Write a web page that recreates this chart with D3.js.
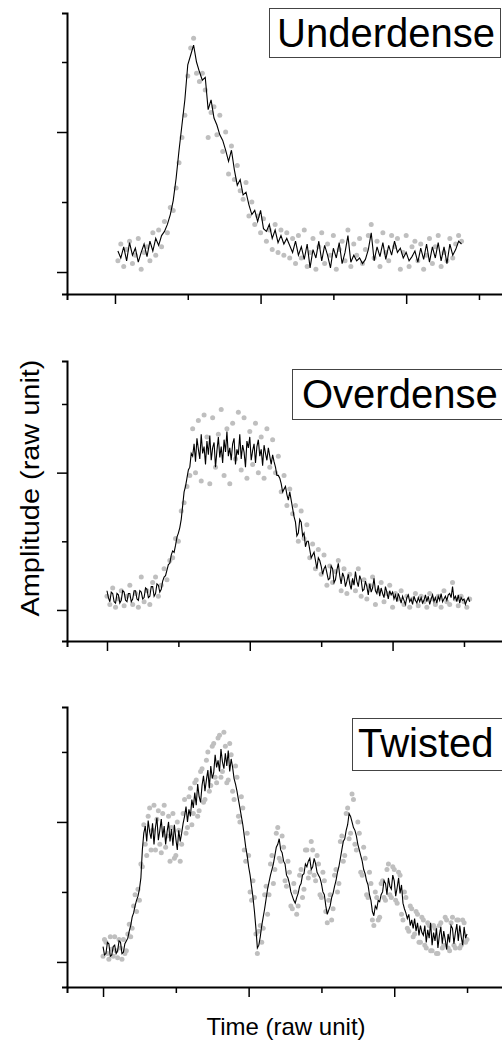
<!DOCTYPE html>
<html>
<head>
<meta charset="utf-8">
<script src="https://cdn.jsdelivr.net/npm/d3@7"></script>
<style>
  html, body { margin: 0; padding: 0; background: #fff; }
  svg { display: block; font-family: "Liberation Sans", Arial, sans-serif; }
</style>
</head>
<body>
<div id="chart"></div>
<script>
// sampled signals: one value per time step, first sample at *Start

const underdenseStart = 4;
const underdenseLineStep = 4;
const underdenseDotStep = 4;
const underdenseLine = [15,10,18,8,21,12,17,7,14,20, 11,22,15,24,19,26,29,34,41,51,
  67,87,105,123,148,155,162,150,143,137, 139,116,123,110,105,98,94,87,79,87,
  73,62,66,55,57,48,41,44,36,44, 31,29,34,24,30,21,26,20,24,19,
  14,22,12,18,9,20,3,16,10,22, 8,19,12,3,17,10,21,6,14,26,
  7,12,8,10,6,9,16,28,8,18, 11,21,9,19,12,22,14,17,10,14,
  8,11,15,7,17,9,20,7,18,10, 21,8,18,6,20,12,16,22,20];
const underdenseDots = [8,20,4,16,22,6,12,24,2,14, 18,8,28,12,30,18,36,28,46,44,
  60,78,96,112,140,160,167,142,136,142, 130,96,114,118,98,112,86,100,70,90,
  66,76,58,52,64,40,50,34,40,28, 38,22,30,16,34,14,30,12,28,10,
  24,6,26,10,30,4,14,24,2,18, 28,6,20,12,26,2,16,22,8,30,
  4,20,12,24,6,16,26,34,10,22, 4,28,14,8,26,18,24,2,14,26,
  4,18,22,8,20,2,12,24,6,18, 26,4,14,8,24,10,20,26,22];

const overdenseStart = 0;
const overdenseLineStep = 2;
const overdenseDotStep = 4;
const overdenseLine = [
  14,9,6,13,12,6,5,12,11,5, 7,14,13,7,6,12,12,6,8,14,
  14,8,7,14,13,8,9,16,15,9, 10,17,17,10,12,19,18,13,15,21,
  24,25,29,33,34,40,43,42,47,53, 56,60,66,76,86,90,96,102,104,114,
  112,121,108,125,117,110,128,114,119,106, 123,113,127,109,118,122,104,116,126,111,
  119,107,124,115,130,112,118,109,121,125, 106,117,113,128,110,120,115,104,123,118,
  126,109,116,121,107,119,124,112,117,105, 120,114,109,118,112,106,113,108,104,98,
  98,96,92,86,88,90,84,80,86,80, 74,68,64,54,56,66,64,54,56,46,
  50,50,44,38,40,42,36,30,38,36, 32,26,30,32,27,22,23,32,30,20,
  22,29,34,25,19,27,24,17,21,26, 19,15,23,18,28,21,17,25,22,14,
  15,21,17,11,19,13,16,23,14,12, 18,10,16,12,9,17,13,8,14,11,
  13,8,11,6,12,9,5,10,7,4, 9,11,6,8,4,10,7,5,9,6,
  9,5,7,11,6,10,4,8,11,6, 9,5,10,7,12,6,8,10,7,11,
  12,9,17,8,10,6,11,5,9,7, 8,4,7,9,6];
const overdenseDots = [10,4,16,2,8,14,3,10,18,4, 12,2,24,6,14,4,20,24,10,18,
  30,22,36,38,52,50,72,78,90,98, 132,100,138,94,142,126,92,140,104,128,
  146,98,132,92,136,110,144,102,140,96, 130,106,136,100,126,96,132,104,124,100,
  112,86,98,76,88,70,76,50,72,52, 62,38,48,30,44,26,40,18,32,20,
  28,36,14,30,12,26,20,14,30,10, 22,8,18,24,4,14,20,6,12,18,
  2,12,8,14,4,10,2,8,12,3, 10,6,2,12,8,4,10,2,14,6,
  4,20,8,3,10,6,2,8];

const twistedStart = 0;
const twistedLineStep = 2;
const twistedDotStep = 2;
const twistedLine = [
  11,5,6,14,13,4,5,11,12,6, 8,15,14,6,7,13,15,17,22,26,
  32,35,40,44,47,52,60,80,92,97, 86,101,93,88,99,84,96,103,87,94,
  102,89,97,84,93,100,86,95,83,98, 88,80,94,86,92,99,104,111,100,109,
  104,116,110,121,112,127,118,114,126,133, 122,130,137,124,140,131,135,148,139,144,
  136,152,143,138,149,140,151,136,145,139, 131,127,122,116,110,104,98,90,82,76,
  68,62,54,46,36,24,10,12,18,26, 32,38,45,52,57,62,66,70,76,82,
  84,88,80,78,72,70,62,60,56,50, 47,44,42,46,49,54,56,62,63,70,
  68,72,74,66,68,74,70,64,62,60, 56,50,48,40,34,37,40,46,49,54,
  58,64,68,74,80,86,88,94,98,106, 104,100,96,94,90,84,80,76,72,66,
  63,58,55,48,44,36,33,40,38,44, 43,48,50,58,56,48,60,54,52,62,
  58,47,53,60,49,55,42,38,35,31, 34,26,30,24,31,22,28,19,26,21,
  19,26,14,23,17,28,12,21,15,24, 10,19,25,13,22,16,9,20,14,26,
  24,13,21,27,15,26,18,12,25,17, 20];
const twistedDots = [
  4,16,14,6,2,18,9,4,18,8, 3,16,10,2,16,6,8,20,27,18,
  24,40,48,36,52,44,70,68,98,84, 76,104,110,80,94,112,80,102,108,84,
  78,106,112,82,90,104,72,96,106,74, 76,100,94,72,84,106,116,92,96,118,
  124,98,106,128,130,104,108,136,138,114, 116,144,150,122,126,154,156,132,128,160,
  162,132,136,164,154,128,130,156,148,122, 116,140,132,104,100,118,110,80,72,92,
  76,50,44,58,46,20,6,22,26,14, 24,48,54,34,48,70,76,56,66,92,
  96,74,72,90,82,58,54,72,64,40, 38,56,50,34,40,62,66,46,52,80,
  80,60,64,86,80,62,58,76,70,48, 46,64,58,36,28,44,48,30,38,62,
  66,50,56,86,90,72,76,106,110,88, 92,120,116,84,80,100,92,64,62,82,
  74,48,46,64,56,30,26,50,46,30, 32,56,58,46,44,66,70,48,46,68,
  66,44,42,64,62,34,30,50,46,24, 22,40,38,18,20,36,34,14,14,32,
  30,12,10,28,26,8,8,26,24,6, 6,26,28,10,12,32,30,10,8,28,
  32,12,10,30,30,10,12,30,28,14, 16];

const panelNames = ["Underdense", "Overdense", "Twisted"];
const xTicks = [0, 100, 200, 300, 400, 500];
const xMajor = [0, 200, 400];
const yTicks = [0, 50, 100, 150];
const yMajor = [0, 100];
const xTitle = "Time (raw unit)";
const yTitle = "Amplitude (raw unit)";

const W = 502, H = 1045;
const svg = d3.select("#chart").append("svg").attr("width", W).attr("height", H);

// frame of each panel: pixel extents of the axes and the data range they span
const panels = [
  { name: panelNames[0], start: underdenseStart, lineStep: underdenseLineStep, dotStep: underdenseDotStep,
    line: underdenseLine, dots: underdenseDots,
    px: [67, 560], xd: [-65.9, 611.3], py: [294, 13], yd: [-15.7, 185],
    box: { x: 269.5, y: 8.5, w: 231, h: 49 }, label: { x: 277, y: 47 } },
  { name: panelNames[1], start: overdenseStart, lineStep: overdenseLineStep, dotStep: overdenseDotStep,
    line: overdenseLine, dots: overdenseDots,
    px: [67, 560], xd: [-56, 634.5], py: [641, 361], yd: [-22.6, 181.3],
    box: { x: 292.5, y: 369.5, w: 220, h: 50 }, label: { x: 302, y: 408 } },
  { name: panelNames[2], start: twistedStart, lineStep: twistedLineStep, dotStep: twistedDotStep,
    line: twistedLine, dots: twistedDots,
    px: [67, 560], xd: [-49.5, 627.7], py: [987, 707], yd: [-17.9, 182.1],
    box: { x: 352.5, y: 718.5, w: 160, h: 52 }, label: { x: 358, y: 757 } },
];

const styleAxis = (g, w) => {
  g.select(".domain").attr("stroke", "#000").attr("stroke-width", 2);
  g.selectAll(".tick line").attr("stroke", "#000").attr("stroke-width", w);
};

panels.forEach((p) => {
  const xs = d3.scaleLinear().domain(p.xd).range(p.px);
  const ys = d3.scaleLinear().domain(p.yd).range(p.py);
  const g = svg.append("g");

  g.append("g").selectAll("circle").data(p.dots).join("circle")
    .attr("cx", (d, i) => xs(p.start + i * p.dotStep))
    .attr("cy", (d) => ys(d))
    .attr("r", 2.5)
    .attr("fill", "#bfbfbf");

  const line = d3.line().x((d, i) => xs(p.start + i * p.lineStep)).y((d) => ys(d));
  g.append("path").datum(p.line)
    .attr("d", line)
    .attr("fill", "none")
    .attr("stroke", "#000")
    .attr("stroke-width", 1.1);

  const bottom = d3.axisBottom(xs).tickSizeOuter(0).tickFormat("");
  const left = d3.axisLeft(ys).tickSizeOuter(0).tickFormat("");
  g.append("g").attr("transform", `translate(0,${p.py[0]})`)
    .call(bottom.tickValues(xTicks.filter((v) => !xMajor.includes(v))).tickSize(6))
    .call((a) => styleAxis(a, 1.5));
  g.append("g").attr("transform", `translate(0,${p.py[0]})`)
    .call(bottom.tickValues(xMajor).tickSize(10))
    .call((a) => { a.select(".domain").remove(); styleAxis(a, 1.5); });
  g.append("g").attr("transform", `translate(${p.px[0]},0)`)
    .call(left.tickValues(yTicks.filter((v) => !yMajor.includes(v))).tickSize(5))
    .call((a) => styleAxis(a, 1.5));
  g.append("g").attr("transform", `translate(${p.px[0]},0)`)
    .call(left.tickValues(yMajor).tickSize(10))
    .call((a) => { a.select(".domain").remove(); styleAxis(a, 1.5); });

  g.append("rect")
    .attr("x", p.box.x).attr("y", p.box.y)
    .attr("width", p.box.w).attr("height", p.box.h)
    .attr("fill", "#fff").attr("stroke", "#444").attr("stroke-width", 1);
  g.append("text").text(p.name)
    .attr("x", p.label.x).attr("y", p.label.y)
    .attr("font-size", 40).attr("fill", "#000");
});

svg.append("text").text(xTitle)
  .attr("x", 286).attr("y", 1035)
  .attr("text-anchor", "middle").attr("font-size", 24);
svg.append("text").text(yTitle)
  .attr("transform", "translate(39,488) rotate(-90)")
  .attr("text-anchor", "middle").attr("font-size", 26)
  .attr("textLength", 257).attr("lengthAdjust", "spacingAndGlyphs");
</script>
</body>
</html>
